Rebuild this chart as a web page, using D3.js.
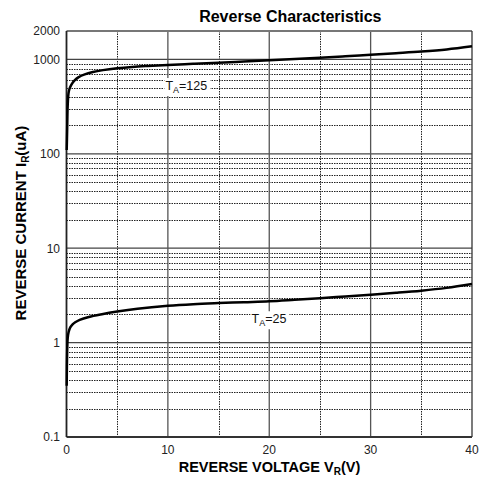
<!DOCTYPE html>
<html>
<head>
<meta charset="utf-8">
<script src="https://cdn.jsdelivr.net/npm/d3@7/dist/d3.min.js"></script>
<style>
  html, body { margin: 0; padding: 0; background: #fff; }
  svg { display: block; font-family: "Liberation Sans", Arial, sans-serif; }
</style>
</head>
<body>
<svg id="chart" width="481" height="481"></svg>
<script>
// ---- data ----
const xTicks = [0, 10, 20, 30, 40];
const yTicks = [0.1, 1, 10, 100, 1000, 2000];
const yTickLabels = ["0.1", "1", "10", "100", "1000", "2000"];
const v125 = [0.02, 0.06, 0.12, 0.2, 0.3, 0.5, 0.8, 1.2, 1.8, 2.6, 3.6, 5, 6.5, 8, 10, 12.5, 15, 17.5, 20, 22.5, 25, 27.5, 30, 32.5, 35, 37.5, 40];
const i125 = [110, 170, 330, 440, 490, 545, 600, 650, 695, 735, 770, 805, 832, 852, 875, 898, 920, 950, 980, 1010, 1040, 1078, 1118, 1162, 1210, 1275, 1375];
const v25 = [0.02, 0.06, 0.12, 0.2, 0.37, 0.6, 0.86, 1.3, 2.2, 3.5, 5, 7, 10, 12.5, 15, 17.5, 20, 22.5, 25, 27.5, 30, 32.5, 35, 37.5, 40];
const i25 = [0.35, 0.75, 1.12, 1.28, 1.45, 1.56, 1.64, 1.74, 1.87, 2.0, 2.13, 2.28, 2.45, 2.55, 2.62, 2.68, 2.74, 2.84, 2.95, 3.08, 3.22, 3.37, 3.55, 3.8, 4.17];
const labels = [
  {v: 10, i: 529, main: "T", sub: "A", rest: "=125"},
  {v: 18.5, i: 1.79, main: "T", sub: "A", rest: "=25"}
];

// ---- layout ----
const svg = d3.select("#chart");
const L = 66.5, R = 472, T = 31, B = 437;
const x = d3.scaleLinear().domain([0, 40]).range([L, R]);
const y = d3.scaleLog().domain([0.1, 2000]).range([B, T]);

// minor grid values
const minorY = [];
[0.1, 1, 10, 100].forEach(d => { for (let k = 2; k <= 9; k++) minorY.push(k * d); });
const majorY = [1, 10, 100, 1000];
const minorX = [5, 15, 25, 35];
const majorX = [10, 20, 30];

const grid = svg.append("g");
grid.selectAll(".my").data(minorY).enter().append("line")
  .attr("x1", L).attr("x2", R)
  .attr("y1", d => Math.round(y(d)) + 0.5).attr("y2", d => Math.round(y(d)) + 0.5)
  .attr("stroke", "#222").attr("stroke-width", 1).attr("stroke-dasharray", "1.5,1");
grid.selectAll(".mx").data(minorX).enter().append("line")
  .attr("y1", T).attr("y2", B)
  .attr("x1", d => Math.round(x(d)) + 0.5).attr("x2", d => Math.round(x(d)) + 0.5)
  .attr("stroke", "#222").attr("stroke-width", 1).attr("stroke-dasharray", "1.5,1");
grid.selectAll(".My").data(majorY).enter().append("line")
  .attr("x1", L).attr("x2", R)
  .attr("y1", d => y(d)).attr("y2", d => y(d))
  .attr("stroke", "#444").attr("stroke-width", 1.3);
grid.selectAll(".Mx").data(majorX).enter().append("line")
  .attr("y1", T).attr("y2", B)
  .attr("x1", d => x(d)).attr("x2", d => x(d))
  .attr("stroke", "#555").attr("stroke-width", 1.3);

// frame
svg.append("line").attr("x1", L).attr("x2", R).attr("y1", T).attr("y2", T).attr("stroke", "#777").attr("stroke-width", 2);
svg.append("line").attr("x1", R).attr("x2", R).attr("y1", T).attr("y2", B).attr("stroke", "#333").attr("stroke-width", 1.3);
svg.append("line").attr("x1", L).attr("x2", R).attr("y1", B).attr("y2", B).attr("stroke", "#333").attr("stroke-width", 1.8);
svg.append("line").attr("x1", L).attr("x2", L).attr("y1", T).attr("y2", B).attr("stroke", "#222").attr("stroke-width", 1.8);

// curves
const line = d3.line().x(d => x(d[0])).y(d => y(d[1])).curve(d3.curveCatmullRom.alpha(0.5));
[[v125, i125], [v25, i25]].forEach(([vs, is]) => {
  svg.append("path").datum(vs.map((v, k) => [v, is[k]]))
    .attr("d", line).attr("fill", "none").attr("stroke", "#000").attr("stroke-width", 2.5);
});

// annotation labels
labels.forEach(l => {
  const g = svg.append("g");
  const t = g.append("text").attr("x", x(l.v) - 2.5).attr("y", y(l.i) + 4.5)
    .attr("font-size", 12.5).attr("fill", "#111");
  t.append("tspan").text(l.main);
  t.append("tspan").text(l.sub).attr("font-size", 9).attr("dy", 3);
  t.append("tspan").text(l.rest).attr("dy", -3);
  const bb = t.node().getBBox();
  g.insert("rect", "text").attr("x", bb.x - 1).attr("y", bb.y - 1)
    .attr("width", bb.width + 4).attr("height", bb.height + 2).attr("fill", "#fff");
});

// tick labels
svg.append("g").selectAll("text").data(yTicks).enter().append("text")
  .attr("x", 60).attr("y", d => y(d) + 4.3).attr("text-anchor", "end")
  .attr("font-size", 12).attr("fill", "#222")
  .text((d, k) => yTickLabels[k]);
svg.append("g").selectAll("text").data(xTicks).enter().append("text")
  .attr("x", d => x(d)).attr("y", 453.5).attr("text-anchor", "middle")
  .attr("font-size", 12).attr("fill", "#222")
  .text(d => d);

// title
svg.append("text").attr("x", 381.5).attr("y", 22).attr("text-anchor", "end")
  .attr("font-size", 16).attr("font-weight", "bold").attr("fill", "#000")
  .text("Reverse Characteristics");

// x axis title
const xt = svg.append("text").attr("x", 269.5).attr("y", 472).attr("text-anchor", "middle")
  .attr("font-size", 14.5).attr("font-weight", "bold").attr("fill", "#000");
xt.append("tspan").text("REVERSE VOLTAGE V");
xt.append("tspan").text("R").attr("font-size", 10).attr("dy", 3);
xt.append("tspan").text("(V)").attr("dy", -3);

// y axis title
const yt = svg.append("text").attr("transform", "translate(26,223) rotate(-90)")
  .attr("text-anchor", "middle")
  .attr("font-size", 15).attr("font-weight", "bold").attr("fill", "#000");
yt.append("tspan").text("REVERSE CURRENT I");
yt.append("tspan").text("R").attr("font-size", 10).attr("dy", 3);
yt.append("tspan").text("(uA)").attr("dy", -3);
</script>
</body>
</html>
